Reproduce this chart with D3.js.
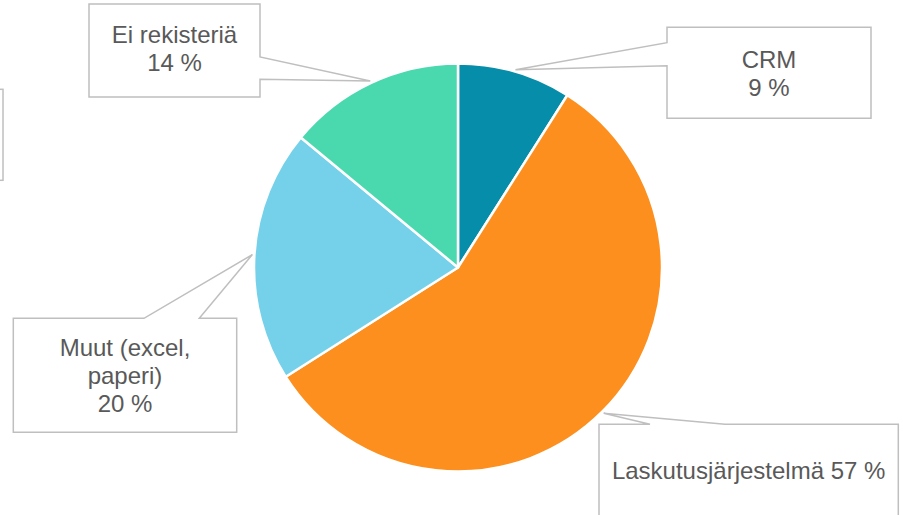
<!DOCTYPE html>
<html>
<head>
<meta charset="utf-8">
<script src="https://cdn.jsdelivr.net/npm/d3@7/dist/d3.min.js"></script>
<style>
html,body{margin:0;padding:0;background:#fff;}
svg{display:block;}
</style>
</head>
<body>
<svg id="chart" width="903" height="515"></svg>
<script>
// ---- data ----
const categories = ["CRM", "Laskutusjärjestelmä", "Muut (excel, paperi)", "Ei rekisteriä"];
const values = [9, 57, 20, 14];
const colors = ["#058DA9", "#FD8F1F", "#75D1EA", "#4AD8AE"];
const labelLines = [
  ["CRM", "9 %"],
  ["Laskutusjärjestelmä 57 %"],
  ["Muut (excel,", "paperi)", "20 %"],
  ["Ei rekisteriä", "14 %"]
];

// ---- layout ----
const cx = 458, cy = 267.5, R = 204;
const boxes = [
  {x0: 667, y0: 27.3, x1: 871, y1: 118.3, side: "left", b0: 42.7, b1: 65.7, ty: 68},
  {x0: 599, y0: 424.3, x1: 898.3, y1: 525, side: "top", b0: 650, b1: 725, ty: 479.3},
  {x0: 13.3, y0: 318.3, x1: 236.7, y1: 432.3, side: "top", b0: 144, b1: 199.3, ty: 355.5},
  {x0: 89, y0: 4, x1: 260, y1: 97, side: "right", b0: 57, b1: 79.3, ty: 43.3}
];
const lineH = 28;

const svg = d3.select("#chart");
const g = svg.append("g").attr("transform", `translate(${cx},${cy})`);

const pie = d3.pie().sort(null).value(d => d)(values);
const arc = d3.arc().innerRadius(0).outerRadius(R);

g.selectAll("path.slice").data(pie).enter().append("path")
  .attr("class", "slice")
  .attr("d", arc)
  .attr("fill", (d, i) => colors[i])
  .attr("stroke", "#fff")
  .attr("stroke-width", 2.5)
  .attr("stroke-linejoin", "round");

// cut-off box at the left edge
svg.append("rect").attr("x", -50).attr("y", 89.3).attr("width", 53).attr("height", 91)
  .attr("fill", "#fff").attr("stroke", "#BFBFBF").attr("stroke-width", 1.5);

function calloutPath(b, tip) {
  const p = [];
  p.push([b.x0, b.y0]);
  if (b.side === "top") { p.push([b.b0, b.y0], tip, [b.b1, b.y0]); }
  p.push([b.x1, b.y0]);
  if (b.side === "right") { p.push([b.x1, b.b0], tip, [b.x1, b.b1]); }
  p.push([b.x1, b.y1]);
  p.push([b.x0, b.y1]);
  if (b.side === "left") { p.push([b.x0, b.b1], tip, [b.x0, b.b0]); }
  return "M" + p.map(q => q.join(",")).join("L") + "Z";
}

pie.forEach((d, i) => {
  const a = (d.startAngle + d.endAngle) / 2;
  const tip = [cx + (R + 2) * Math.sin(a), cy - (R + 2) * Math.cos(a)];
  const b = boxes[i];
  svg.append("path").attr("d", calloutPath(b, tip))
    .attr("fill", "#fff").attr("stroke", "#BFBFBF").attr("stroke-width", 1.5)
    .attr("stroke-linejoin", "miter");
  const t = svg.append("text")
    .attr("font-family", "'Liberation Sans', Arial, sans-serif")
    .attr("font-size", 24)
    .attr("fill", "#595959")
    .attr("text-anchor", "middle");
  labelLines[i].forEach((ln, k) => {
    t.append("tspan").attr("x", (b.x0 + b.x1) / 2).attr("y", b.ty + k * lineH).text(ln);
  });
});
</script>
</body>
</html>
